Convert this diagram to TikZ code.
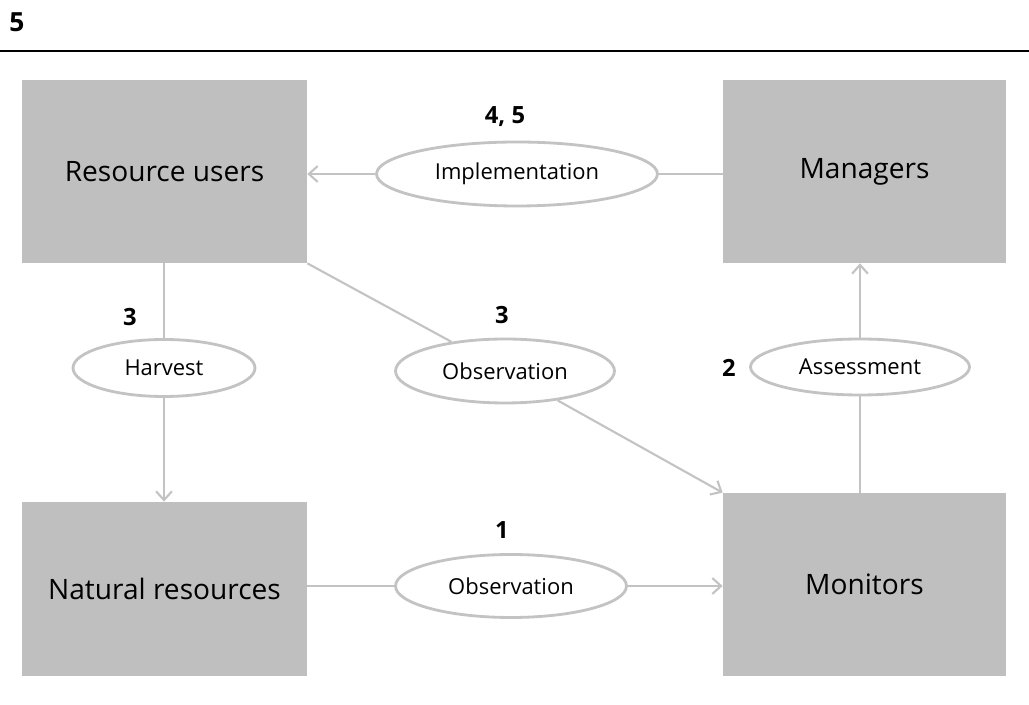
\documentclass[tikz,border=0pt]{standalone}
\usepackage{fontspec}
\setmainfont{Open Sans}
\usetikzlibrary{arrows.meta,shapes.geometric}
\definecolor{boxgray}{HTML}{BFBFBF}
\definecolor{linegray}{HTML}{C3C3C3}
\tikzset{
	actor/.style={rectangle,fill=boxgray,inner sep=0pt,font=\fontsize{16}{19}\selectfont},
	action/.style={ellipse,draw=linegray,line width=1.6pt,fill=white,inner sep=0pt,font=\fontsize{12.5}{15}\selectfont},
	stepnum/.style={inner sep=0pt,font=\bfseries\fontsize{13.5}{16}\selectfont},
	flow/.style={draw=linegray,line width=1.2pt},
	flowto/.style={flow,-{Straight Barb[length=5pt,width=9pt,line width=1.2pt]}}
}

\begin{document}
\begin{tikzpicture}[x=0.02cm,y=-0.02cm]
        \useasboundingbox (0,0) rectangle (1029,705);
        \node[stepnum,font=\bfseries\fontsize{15}{18}\selectfont] (page) at (17,22) {5};
        \coordinate (rule_l) at (0,51);
        \coordinate (rule_r) at (1029,51);
        \draw[line width=1.5pt] (rule_l) -- (rule_r);
        \node[actor,minimum width=5.7cm,minimum height=3.66cm] (users) at (164.5,171.5) {Resource users};
        \node[actor,minimum width=5.66cm,minimum height=3.66cm] (managers) at (864.5,171.5) {Managers};
        \node[actor,minimum width=5.7cm,minimum height=3.48cm] (nature) at (164.5,589) {Natural resources};
        \node[actor,minimum width=5.66cm,minimum height=3.66cm] (monitors) at (864.5,584.5) {Monitors};
        \node[action,minimum width=5.62cm,minimum height=1.28cm] (implement) at (517,174) {Implementation};
        \node[action,minimum width=3.64cm,minimum height=1.14cm] (harvest) at (164,368) {Harvest};
        \node[action,minimum width=4.38cm,minimum height=1.28cm] (observe_u) at (505,371) {Observation};
        \node[action,minimum width=4.38cm,minimum height=1.12cm] (assess) at (860,367) {Assessment};
        \node[action,minimum width=4.62cm,minimum height=1.26cm] (observe_n) at (511,586) {Observation};
        \node[stepnum] (s45) at (505,117) {4, 5};
        \node[stepnum] (s3h) at (130,317) {3};
        \node[stepnum] (s3o) at (502,315) {3};
        \node[stepnum] (s2) at (729,368) {2};
        \node[stepnum] (s1) at (502,530) {1};
        \draw[flow] (managers.west |- implement) -- (implement);
        \draw[flowto] (implement) -- (users.east |- implement);
        \draw[flow] (users.south -| harvest) -- (harvest);
        \draw[flowto] (harvest) -- (nature.north -| harvest);
        \draw[flow] (users.south east) -- (observe_u);
        \draw[flowto] (observe_u) -- (monitors.north west);
        \draw[flow] (monitors.north -| assess) -- (assess);
        \draw[flowto] (assess) -- (managers.south -| assess);
        \draw[flow] (nature.east |- observe_n) -- (observe_n);
        \draw[flowto] (observe_n) -- (monitors.west |- observe_n);
    \end{tikzpicture}
\end{document}
